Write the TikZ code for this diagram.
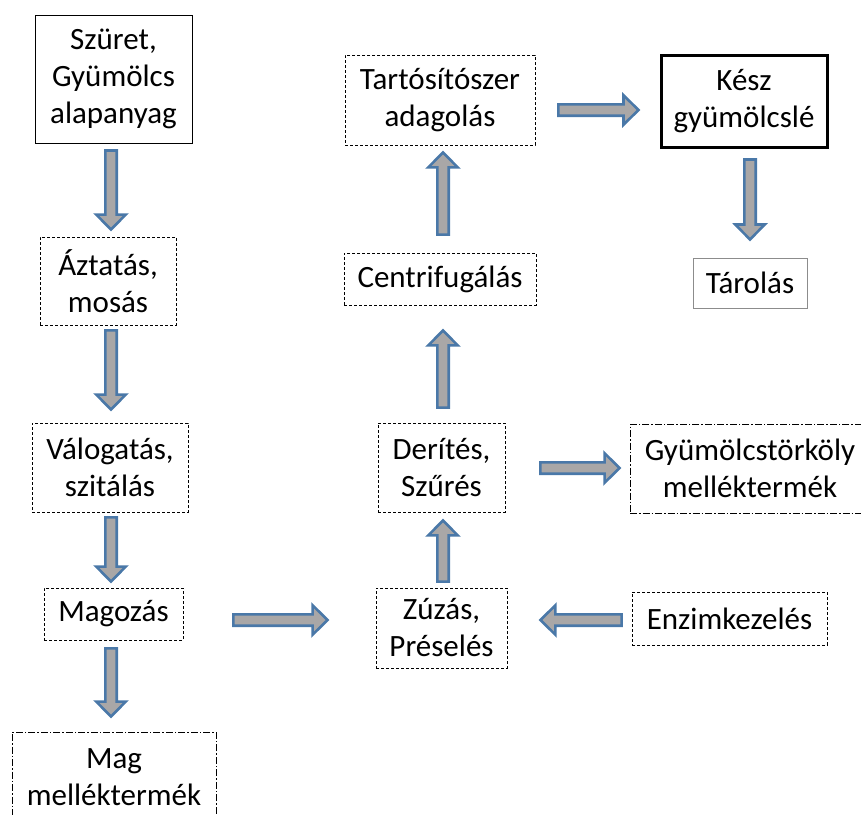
\documentclass[tikz,border=0pt]{standalone}
\usepackage{fontspec}
\setmainfont{Carlito}
\usetikzlibrary{calc}
\definecolor{arrfill}{HTML}{A9A7A7}
\definecolor{arrdraw}{HTML}{4A78A8}
\definecolor{targray}{HTML}{8C8C8C}
\tikzset{
  box/.style={draw=black, line width=0.8pt, align=center, inner sep=0pt,
    font=\fontsize{31}{37}\selectfont},
  dbox/.style={box, dash pattern=on 3pt off 2pt},
  ddbox/.style={box, dash pattern=on 7pt off 2pt on 1.5pt off 2pt},
  sbox/.style={box, line width=1pt},
  thickbox/.style={box, line width=3pt},
  graybox/.style={box, draw=targray, line width=1pt},
  fatarrow/.style={fill=arrfill, draw=arrdraw, line width=2.6pt, line join=miter}
}
\newcommand{\fatarr}[2]{%
  \coordinate (fh) at ($(#2)!15pt!(#1)$);
  \draw[fatarrow] ($(#1)!5.7pt!90:(#2)$) -- ($(fh)!5.7pt!90:(#2)$) -- ($(fh)!14.7pt!90:(#2)$) -- (#2)
    -- ($(fh)!14.7pt!-90:(#2)$) -- ($(fh)!5.7pt!-90:(#2)$) -- ($(#1)!5.7pt!-90:(#2)$) -- cycle;}
\begin{document}
\begin{tikzpicture}[x=1pt,y=-1pt]
\useasboundingbox (0,0) rectangle (861,814);
% boxes
\node[sbox, minimum width=157pt, minimum height=128pt] (szuret) at (113.5,79) {Szüret,\\Gyümölcs\\alapanyag};
\node[dbox, minimum width=136pt, minimum height=88pt] (aztatas) at (108,281) {Áztatás,\\mosás};
\node[dbox, minimum width=156pt, minimum height=89pt] (valog) at (110,467.5) {Válogatás,\\szitálás};
\node[dbox, minimum width=139pt, minimum height=52pt] (magoz) at (113.5,614) {Magozás};
\node[ddbox, minimum width=204pt, minimum height=90pt] (mag) at (114,777) {Mag\\melléktermék};
\node[dbox, minimum width=131pt, minimum height=80pt] (zuzas) at (441.5,628) {Zúzás,\\Préselés};
\node[dbox, minimum width=127pt, minimum height=89pt] (derites) at (441.5,467.5) {Derítés,\\Szűrés};
\node[ddbox, minimum width=240pt, minimum height=89pt] (gyum) at (750,468.5) {Gyümölcstörköly\\melléktermék};
\node[dbox, minimum width=195pt, minimum height=53pt] (enzim) at (729.5,618.5) {Enzimkezelés};
\node[dbox, minimum width=192pt, minimum height=52pt] (centri) at (440,279) {Centrifugálás};
\node[dbox, minimum width=190pt, minimum height=90pt] (tartos) at (440,100) {Tartósítószer\\adagolás};
\node[thickbox, minimum width=166pt, minimum height=92pt] (kesz) at (744,101) {Kész\\gyümölcslé};
\node[graybox, minimum width=114pt, minimum height=50pt] (tarolas) at (750,283) {Tárolás};
% arrow end points
\coordinate (a1s) at ($(szuret.south)+(-2.5,7)$);
\coordinate (a1e) at ($(aztatas.north)+(3,-7)$);
\coordinate (a2s) at ($(aztatas.south)+(3,5)$);
\coordinate (a2e) at ($(valog.north)+(1,-13)$);
\coordinate (a3s) at ($(valog.south)+(1,5)$);
\coordinate (a3e) at ($(magoz.north)+(-2.5,-6)$);
\coordinate (a4s) at ($(magoz.south)+(-2.5,8)$);
\coordinate (a4e) at ($(mag.north)+(-3,-15)$);
\coordinate (a5s) at ($(magoz.east)+(50,6)$);
\coordinate (a5e) at ($(zuzas.west)+(-48,-8)$);
\coordinate (a6s) at ($(enzim.west)+(-10,1.5)$);
\coordinate (a6e) at ($(zuzas.east)+(33,-8)$);
\coordinate (a7s) at ($(zuzas.north)+(1.5,-6)$);
\coordinate (a7e) at ($(derites.south)+(1.5,8)$);
\coordinate (a8s) at ($(derites.east)+(35,0.5)$);
\coordinate (a8e) at ($(gyum.west)+(-10,-0.5)$);
\coordinate (a9s) at ($(derites.north)+(1.5,-15)$);
\coordinate (a9e) at ($(centri.south)+(3,25)$);
\coordinate (a10s) at ($(centri.north)+(3,-18)$);
\coordinate (a10e) at ($(tartos.south)+(3,7)$);
\coordinate (a11s) at ($(tartos.east)+(23,10)$);
\coordinate (a11e) at ($(kesz.west)+(-21,9)$);
\coordinate (a12s) at ($(kesz.south)+(6,11)$);
\coordinate (a12e) at ($(tarolas.north)+(0,-18)$);
% arrows
\fatarr{a1s}{a1e}
\fatarr{a2s}{a2e}
\fatarr{a3s}{a3e}
\fatarr{a4s}{a4e}
\fatarr{a5s}{a5e}
\fatarr{a6s}{a6e}
\fatarr{a7s}{a7e}
\fatarr{a8s}{a8e}
\fatarr{a9s}{a9e}
\fatarr{a10s}{a10e}
\fatarr{a11s}{a11e}
\fatarr{a12s}{a12e}
\end{tikzpicture}
\end{document}
